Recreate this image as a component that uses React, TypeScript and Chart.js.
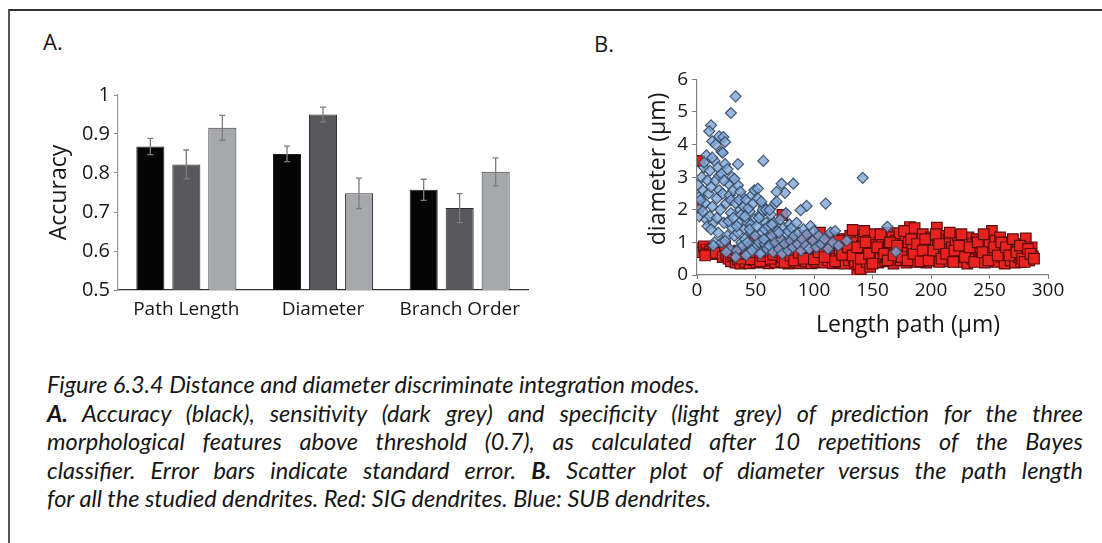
import React, { useEffect, useRef } from 'react';
import { Chart, registerables } from 'chart.js';

Chart.register(...registerables);

// ---------- Panel A data ----------
const categories = ['Path Length', 'Diameter', 'Branch Order'];
const accuracy = [0.868, 0.849, 0.757];
const accuracyErr = [0.021, 0.02, 0.027];
const sensitivity = [0.822, 0.95, 0.71];
const sensitivityErr = [0.037, 0.019, 0.037];
const specificity = [0.916, 0.748, 0.803];
const specificityErr = [0.032, 0.039, 0.036];
const accuracyAxis = { min: 0.5, max: 1, step: 0.05 };

// ---------- Panel B data ----------
const pathAxis = { min: 0, max: 300, step: 50 };
const diameterAxis = { min: 0, max: 6, step: 1 };

const sigPoints: [number, number][] = [
  [1, 2.1], [2, 3.5], [3, 0.82], [4, 0.7], [6, 0.88], [8, 0.78], [9, 0.66], [11, 0.72], [12, 0.64], [14, 0.8], [7, 0.6], [16, 0.68],
  [22, 0.55], [25, 0.62], [27, 0.5], [29, 0.42], [31, 0.58], [33, 0.38], [35, 0.48], [37, 0.35], [39, 0.62], [24, 0.9], [36, 0.75],
  [41, 0.4], [43, 0.55], [45, 0.36], [47, 0.6], [49, 0.45], [51, 0.38], [53, 0.52], [55, 0.68], [57, 0.4], [59, 0.55], [44, 0.8], [52, 0.95], [58, 0.85], [48, 1.05],
  [61, 0.36], [62, 0.6], [64, 0.45], [66, 0.75], [67, 0.38], [69, 0.55], [71, 0.9], [72, 0.42], [73, 1.84], [74, 0.65], [76, 0.5], [77, 1.0], [78, 0.35], [79, 0.8], [63, 1.1], [68, 1.2],
  [81, 0.55], [82, 0.4], [84, 0.7], [85, 1.05], [86, 0.48], [88, 0.36], [89, 0.85], [90, 0.6], [92, 1.2], [93, 0.42], [94, 0.7], [96, 0.95], [97, 0.5], [98, 0.36], [99, 1.1], [83, 0.9],
  [101, 0.62], [102, 0.4], [103, 0.85], [105, 1.3], [106, 0.5], [107, 0.72], [108, 0.38], [110, 1.0], [111, 0.6], [112, 0.45], [114, 0.8], [115, 1.15], [116, 0.36], [117, 0.65], [119, 0.5], [120, 0.9],
  [121, 0.4], [122, 0.77], [123, 1.1], [125, 0.55], [126, 0.35], [127, 0.95], [128, 0.65], [130, 0.45], [131, 1.2], [132, 0.8], [133, 1.38], [134, 0.5], [135, 0.35], [136, 1.0], [137, 0.1], [138, 0.31], [139, 0.7],
  [140, 0.18], [141, 0.9], [142, 1.2], [143, 1.35], [144, 0.55], [145, 0.4], [146, 0.8], [147, 1.05], [148, 0.25], [149, 0.6], [150, 0.95], [151, 0.45], [152, 1.25], [153, 0.7], [155, 0.38], [156, 1.0], [157, 0.55], [158, 1.15], [159, 0.8],
  [161, 0.42], [162, 0.56], [163, 1.3], [164, 0.9], [166, 0.65], [167, 1.16], [168, 0.35], [169, 0.8], [170, 1.05], [171, 0.5], [172, 0.7], [173, 1.28], [174, 0.45], [176, 0.95], [177, 0.6], [178, 1.2], [179, 0.38],
  [180, 0.75], [181, 1.0], [182, 1.47], [183, 0.55], [184, 0.85], [186, 1.44], [187, 0.4], [188, 0.65], [189, 1.1], [190, 0.9], [192, 0.5], [193, 1.25], [194, 0.7], [196, 0.38], [197, 1.0], [198, 0.8], [199, 0.55],
  [200, 1.15], [201, 0.45], [203, 0.9], [204, 0.65], [205, 1.45], [206, 1.05], [207, 0.4], [208, 0.8], [210, 1.2], [211, 0.55], [212, 0.95], [214, 0.7], [215, 1.1], [216, 0.42], [218, 0.85], [219, 0.6],
  [221, 1.0], [222, 0.5], [223, 1.2], [225, 0.75], [226, 0.4], [227, 1.05], [228, 0.6], [230, 0.9], [231, 0.35], [232, 1.15], [234, 0.7], [235, 0.5], [236, 0.95], [238, 0.8], [239, 1.1],
  [241, 0.45], [242, 0.85], [243, 1.0], [245, 0.6], [246, 0.38], [247, 1.2], [248, 0.75], [250, 0.95], [251, 0.5], [252, 1.35], [253, 0.7], [255, 1.05], [256, 0.4], [258, 0.85], [259, 1.15],
  [261, 0.55], [262, 0.9], [263, 0.35], [265, 0.7], [266, 1.0], [268, 0.45], [269, 0.8], [271, 0.6], [272, 0.38], [274, 0.95], [275, 0.55], [277, 0.4], [279, 0.75], [281, 1.12], [282, 0.6], [284, 0.45], [286, 0.85], [287, 0.57],
  [30, 0.7], [34, 0.6], [38, 0.5], [42, 0.65], [46, 0.48], [50, 0.7], [54, 0.42], [56, 0.58], [60, 0.72], [63, 0.5], [65, 0.62], [70, 0.7], [73, 0.55], [75, 0.38], [80, 0.6], [83, 0.45],
  [87, 0.68], [91, 0.5], [95, 0.85], [100, 0.48], [104, 0.7], [109, 0.55], [113, 0.95], [118, 0.42], [121, 1.05], [124, 0.62], [129, 0.85], [133, 0.6], [137, 0.85], [140, 0.5], [144, 1.0],
  [147, 0.65], [150, 0.35], [154, 0.85], [157, 1.25], [160, 0.65], [163, 0.45], [165, 1.0], [168, 0.6], [171, 0.9], [175, 0.55], [177, 1.35], [180, 0.45], [183, 1.1], [185, 0.65], [188, 0.95],
  [191, 0.42], [193, 0.75], [195, 1.1], [198, 0.45], [202, 0.75], [204, 1.25], [207, 0.95], [209, 0.5], [213, 0.65], [216, 1.3], [219, 0.4], [220, 0.75], [224, 0.9], [226, 1.25], [229, 0.55],
  [233, 0.85], [237, 0.4], [240, 1.0], [244, 0.7], [245, 1.25], [249, 0.45], [254, 0.85], [257, 0.6], [260, 1.0], [264, 0.85], [267, 0.6], [270, 1.1], [273, 0.7], [276, 0.9], [278, 0.5],
  [280, 0.4], [283, 0.8], [285, 0.65], [288, 0.5],
];

const subPoints: [number, number][] = [
  [33, 5.48], [29, 4.97], [12, 4.59], [10.5, 4.41], [19, 4.25], [13, 4.1], [22.5, 4.23], [24, 4.08], [56.7, 3.5], [35, 3.4], [21, 3.78], [8, 3.67],
  [141.6, 2.98], [162.7, 1.48], [170, 0.71], [110, 2.19], [93.7, 2.12], [88.6, 1.99], [82.3, 2.8], [72.4, 2.8], [75.2, 2.52], [68, 2.55], [66.7, 2.19],
  [1, 2.75], [2, 2.4], [3, 2.05], [2, 1.8], [4, 3.0], [5, 2.6], [6, 3.3], [7, 2.2], [8, 1.7], [9, 2.9], [5, 1.95], [10, 2.5], [6, 3.45], [9, 1.5], [3, 2.3],
  [11, 3.2], [12, 2.7], [13, 2.1], [14, 1.6], [15, 3.5], [16, 2.9], [17, 2.35], [18, 1.3], [19, 3.05], [11, 1.8], [13, 3.6], [15, 1.0], [17, 1.75], [19, 2.6], [14, 0.9], [16, 4.0], [18, 3.3], [20, 2.0], [12, 1.4],
  [21, 3.1], [22, 2.5], [23, 1.6], [24, 3.4], [25, 2.2], [26, 1.2], [27, 2.8], [28, 0.8], [29, 1.9], [30, 3.0], [21, 1.0], [23, 2.9], [25, 0.7], [26, 3.25], [28, 2.45], [30, 1.45], [22, 3.75], [27, 1.65], [29, 2.3], [24, 1.05],
  [31, 2.6], [32, 1.2], [33, 2.2], [34, 0.75], [35, 2.75], [36, 1.6], [37, 2.0], [38, 1.0], [39, 2.4], [40, 1.4], [31, 1.75], [33, 0.55], [35, 1.3], [37, 2.55], [39, 0.9], [32, 2.95], [36, 2.3], [38, 1.85], [34, 1.5], [40, 2.1],
  [41, 1.1], [42, 2.3], [43, 1.6], [44, 0.7], [45, 1.95], [46, 1.3], [47, 2.45], [48, 0.9], [49, 1.7], [50, 1.2], [42, 0.6], [44, 2.05], [46, 1.55], [48, 2.2], [50, 0.85], [43, 1.0], [45, 1.4], [47, 0.75], [49, 2.6], [41, 1.8],
  [51, 1.5], [52, 2.65], [53, 1.0], [54, 1.85], [55, 0.7], [56, 1.3], [57, 2.1], [58, 0.95], [59, 1.6], [60, 1.15], [52, 2.35], [54, 0.65], [56, 2.0], [58, 1.4], [60, 0.8], [53, 1.75], [55, 2.25], [57, 1.1], [59, 2.0],
  [61, 1.5], [62, 0.9], [63, 1.85], [64, 1.2], [65, 0.7], [66, 1.6], [67, 1.0], [68, 2.25], [69, 1.35], [70, 0.8], [71, 1.7], [72, 1.1], [73, 0.65], [74, 1.45], [75, 0.95], [76, 1.9], [77, 1.25], [78, 0.75], [79, 1.55], [80, 1.05], [62, 2.0], [64, 1.55], [70, 1.3], [78, 1.35],
  [81, 1.45], [82, 0.85], [83, 1.2], [85, 1.6], [86, 0.95], [87, 1.3], [89, 0.75], [90, 1.1], [91, 1.4], [93, 0.9], [94, 1.25], [96, 0.8], [97, 1.5], [99, 1.05], [100, 1.35],
  [102, 0.85], [104, 1.2], [106, 0.95], [109, 1.1], [112, 0.8], [114, 1.3], [116, 1.0], [118, 1.35], [121, 0.9], [128, 1.05],
];

const SANS = "'Open Sans', sans-serif";
const TEXT = '#161616';

const errorBarPlugin = {
  id: 'errorBars',
  afterDatasetsDraw(chart: any) {
    const ctx = chart.ctx;
    const yScale = chart.scales.y;
    chart.data.datasets.forEach((ds: any, i: number) => {
      const meta = chart.getDatasetMeta(i);
      if (!ds.errors) return;
      meta.data.forEach((bar: any, j: number) => {
        const v = ds.data[j];
        const e = ds.errors[j];
        const yTop = yScale.getPixelForValue(v + e);
        const yBot = yScale.getPixelForValue(v - e);
        ctx.save();
        ctx.strokeStyle = '#7d7d7d';
        ctx.lineWidth = 1.3;
        ctx.beginPath();
        ctx.moveTo(bar.x, yTop);
        ctx.lineTo(bar.x, yBot);
        ctx.moveTo(bar.x - 3, yTop);
        ctx.lineTo(bar.x + 3, yTop);
        ctx.moveTo(bar.x - 3, yBot);
        ctx.lineTo(bar.x + 3, yBot);
        ctx.stroke();
        ctx.restore();
      });
    });
  },
};

function BarPanel() {
  const ref = useRef<HTMLCanvasElement>(null);
  useEffect(() => {
    const chart = new Chart(ref.current!, {
      type: 'bar',
      data: {
        labels: categories,
        datasets: [
          { label: 'Accuracy', data: accuracy, errors: accuracyErr, backgroundColor: '#050505', borderColor: '#1e1e1e', borderWidth: 1 } as any,
          { label: 'Sensitivity', data: sensitivity, errors: sensitivityErr, backgroundColor: '#58585a', borderColor: '#2a2a2a', borderWidth: 1 } as any,
          { label: 'Specificity', data: specificity, errors: specificityErr, backgroundColor: '#a7a8ab', borderColor: '#3a3a3a', borderWidth: 1 } as any,
        ],
      },
      options: {
        animation: false,
        responsive: false,
        devicePixelRatio: 1,
        layout: { padding: { top: 15, right: 10, left: 0, bottom: 0 } },
        plugins: { legend: { display: false }, tooltip: { enabled: false } },
        datasets: { bar: { categoryPercentage: 0.79, barPercentage: 0.78 } },
        scales: {
          x: {
            grid: { display: false, drawTicks: false },
            border: { display: true, color: '#333', width: 1.2 },
            ticks: { font: { family: SANS, size: 19 }, color: TEXT, padding: 8 },
            afterFit(s: any) { s.height = 40; },
          },
          y: {
            min: accuracyAxis.min,
            max: accuracyAxis.max,
            ticks: {
              stepSize: accuracyAxis.step,
              font: { family: SANS, size: 20 },
              color: TEXT,
              padding: 4,
              callback: (v: any) => {
                const r = Math.round(Number(v) * 100);
                if (r % 10 !== 0) return '';
                return String(r / 100);
              },
            },
            grid: { drawOnChartArea: false, tickLength: 4, color: '#8a8a8a' },
            border: { color: '#9a9a9a', width: 1.2 },
            title: { display: true, text: 'Accuracy', font: { family: SANS, size: 23 }, color: TEXT, padding: { top: 4, bottom: 4 } },
            afterFit(s: any) { s.width = 76; },
          },
        },
      } as any,
      plugins: [errorBarPlugin],
    });
    return () => chart.destroy();
  }, []);
  return <canvas ref={ref} width={496} height={251} style={{ position: 'absolute', left: 42, top: 79 }} />;
}

function ScatterPanel() {
  const ref = useRef<HTMLCanvasElement>(null);
  useEffect(() => {
    const chart = new Chart(ref.current!, {
      type: 'scatter',
      data: {
        datasets: [
          {
            label: 'SUB',
            data: subPoints.map(([x, y]) => ({ x, y })),
            pointStyle: 'rectRot',
            pointRadius: 5.5,
            backgroundColor: 'rgba(126,166,216,0.8)',
            borderColor: 'rgba(52,72,96,0.9)',
            borderWidth: 1.2,
          },
          {
            label: 'SIG',
            data: sigPoints.map(([x, y]) => ({ x, y })),
            pointStyle: 'rect',
            pointRadius: 7.5,
            backgroundColor: '#e8221f',
            borderColor: '#5a0c0c',
            borderWidth: 1.2,
          },
        ],
      },
      options: {
        animation: false,
        responsive: false,
        devicePixelRatio: 1,
        layout: { padding: { top: 15, right: 30, left: 0, bottom: 0 } },
        plugins: { legend: { display: false }, tooltip: { enabled: false } },
        scales: {
          x: {
            type: 'linear',
            min: pathAxis.min,
            max: pathAxis.max,
            ticks: { stepSize: pathAxis.step, font: { family: SANS, size: 19 }, color: TEXT, padding: 0 },
            grid: { drawOnChartArea: false, tickLength: 4, color: '#808080' },
            border: { color: '#808080', width: 1.2 },
            afterFit(s: any) { s.height = 66; },
          },
          y: {
            type: 'linear',
            min: diameterAxis.min,
            max: diameterAxis.max,
            ticks: { stepSize: diameterAxis.step, font: { family: SANS, size: 19 }, color: TEXT, padding: 4 },
            grid: { drawOnChartArea: false, tickLength: 5, color: '#808080' },
            border: { color: '#808080', width: 1.2 },
            afterFit(s: any) { s.width = 59; },
          },
        },
      } as any,
    });
    return () => chart.destroy();
  }, []);
  return <canvas ref={ref} width={440} height={277} style={{ position: 'absolute', left: 638, top: 64 }} />;
}

const justify: React.CSSProperties = { textAlign: 'justify', textAlignLast: 'justify' as any, whiteSpace: 'nowrap' };

export default function App() {
  return (
    <div style={{ position: 'absolute', left: 0, top: 0, width: 1102, height: 543, background: '#fff', overflow: 'hidden' }}>
      <div style={{ position: 'absolute', left: 8, top: 9, width: 1100, height: 540, borderTop: '2px solid #333', borderLeft: '2px solid #555' }} />
      <div style={{ position: 'absolute', left: 43, top: 30, fontFamily: SANS, fontSize: 22, lineHeight: '22px', color: TEXT }}>A.</div>
      <div style={{ position: 'absolute', left: 594, top: 32, fontFamily: SANS, fontSize: 22, lineHeight: '22px', color: TEXT }}>B.</div>
      <BarPanel />
      <ScatterPanel />
      <div style={{ position: 'absolute', left: 556, top: 155, width: 200, height: 28, transform: 'rotate(-90deg)', textAlign: 'center', fontFamily: SANS, fontSize: 23, lineHeight: '28px', color: TEXT, whiteSpace: 'nowrap' }}>diameter (µm)</div>
      <div style={{ position: 'absolute', left: 788, top: 309, width: 240, textAlign: 'center', fontFamily: SANS, fontSize: 23, lineHeight: '28px', color: TEXT, whiteSpace: 'nowrap' }}>Length path (µm)</div>
      <div style={{ position: 'absolute', left: 47, top: 370, width: 1036, fontFamily: 'Lato, sans-serif', fontStyle: 'italic', fontSize: 23.5, lineHeight: '28.5px', color: TEXT }}>
        <div style={{ whiteSpace: 'nowrap' }}>Figure 6.3.4 Distance and diameter discriminate integration modes.</div>
        <div style={justify}><b>A.</b> Accuracy (black), sensitivity (dark grey) and specificity (light grey) of prediction for the three</div>
        <div style={justify}>morphological features above threshold (0.7), as calculated after 10 repetitions of the Bayes</div>
        <div style={justify}>classifier. Error bars indicate standard error. <b>B.</b> Scatter plot of diameter versus the path length</div>
        <div style={{ whiteSpace: 'nowrap' }}>for all the studied dendrites. Red: SIG dendrites. Blue: SUB dendrites.</div>
      </div>
    </div>
  );
}
